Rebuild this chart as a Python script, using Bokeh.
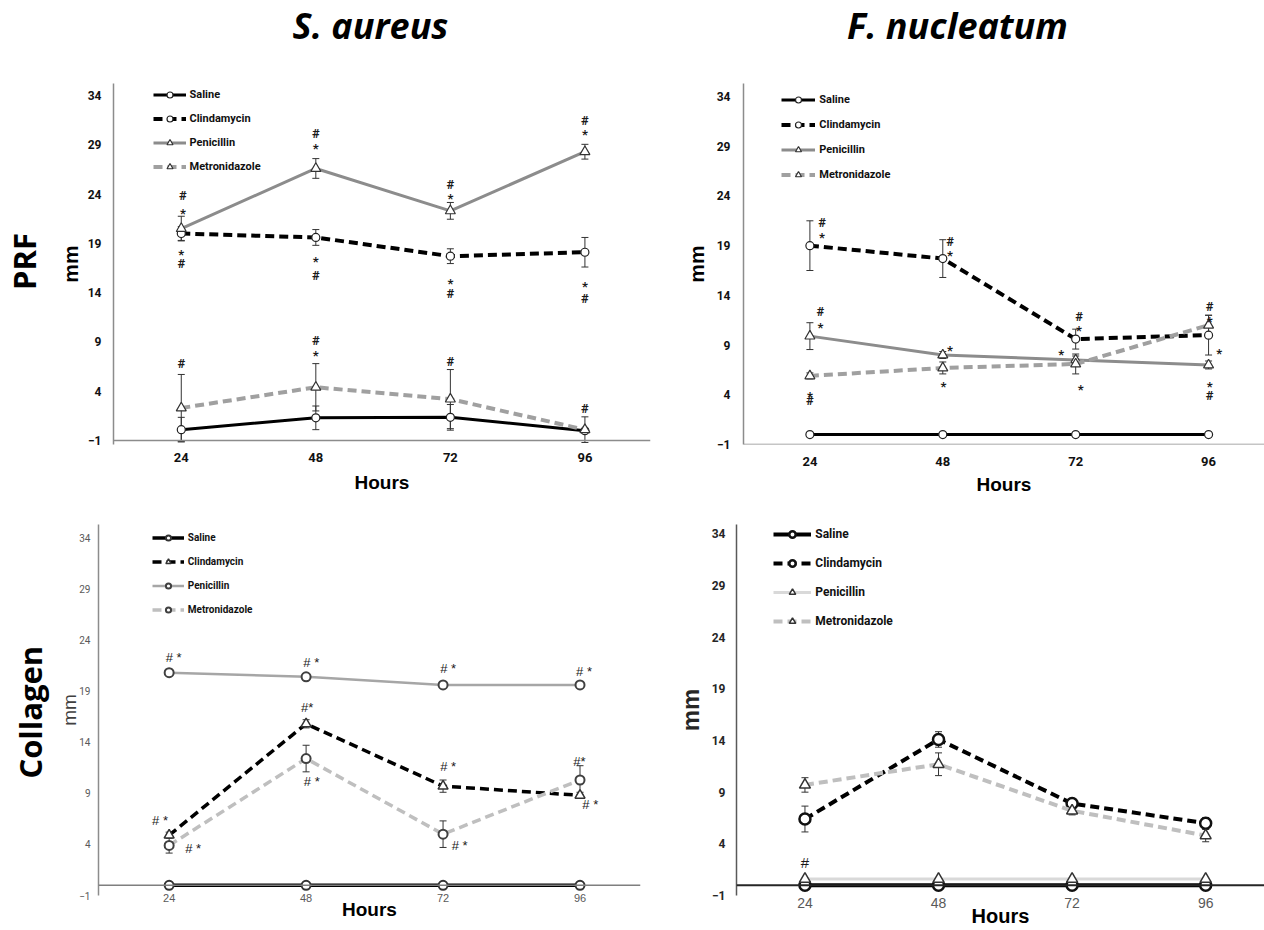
import math
from bokeh.plotting import figure
from bokeh.models import (Range1d, FixedTicker, Legend, LegendItem, Whisker,
                          ColumnDataSource, Label, Span)
from bokeh.layouts import column, row
from bokeh.embed import file_html
from bokeh.resources import INLINE
from bokeh.core.properties import value

# ---------------- data ----------------
hours = [24, 48, 72, 96]
y_ticks = [-1, 4, 9, 14, 19, 24, 29, 34]
series_names = ["Saline", "Clindamycin", "Penicillin", "Metronidazole"]
column_titles = ["S. aureus", "F. nucleatum"]
row_titles = ["PRF", "Collagen"]
x_title = "Hours"
y_title = "mm"

# S. aureus - PRF
sa_prf_saline = [0.1, 1.3, 1.35, 0.0]
sa_prf_saline_err = [1.25, 1.2, 1.3, 0.2]
sa_prf_clinda = [20.0, 19.6, 17.7, 18.1]
sa_prf_clinda_err = [0.7, 0.8, 0.75, 1.5]
sa_prf_penic = [20.5, 26.6, 22.3, 28.3]
sa_prf_penic_err = [1.25, 1.0, 0.85, 0.75]
sa_prf_metro = [2.3, 4.4, 3.2, 0.1]
sa_prf_metro_err = [3.4, 2.4, 3.0, 1.3]
sa_prf_ann_x = [24.3, 24.3, 24, 24, 48, 48, 48, 48, 72, 72, 72, 72, 96, 96, 96, 96,
                24, 48, 48, 72, 96]
sa_prf_ann_y = [23.86, 22.33, 18.21, 16.92, 30.11, 28.93, 17.43, 15.74, 24.97, 23.86,
                15.23, 13.88, 31.47, 30.38, 14.89, 13.37, 6.85, 9.15, 7.96, 7.05, 2.21]
sa_prf_ann_text = ["#", "*", "*", "#", "#", "*", "*", "#", "#", "*", "*", "#", "#", "*",
                   "*", "#", "#", "#", "*", "#", "#"]

# F. nucleatum - PRF
fn_prf_saline = [0.0, 0.0, 0.0, 0.0]
fn_prf_saline_err = [0.0, 0.0, 0.0, 0.0]
fn_prf_clinda = [19.0, 17.7, 9.6, 10.0]
fn_prf_clinda_err = [2.5, 1.9, 1.0, 2.0]
fn_prf_penic = [9.9, 8.0, 7.5, 7.0]
fn_prf_penic_err = [1.35, 0.35, 0.4, 0.4]
fn_prf_metro = [5.9, 6.7, 7.1, 11.0]
fn_prf_metro_err = [0.3, 0.6, 1.0, 1.0]
fn_prf_ann_x = [26.2, 26.2, 49.3, 49.3, 25.9, 25.9, 49.3, 48.1, 72.6, 72.6, 69.4, 72.9,
                96.2, 96.2, 97.9, 96.2, 96.2, 24, 24]
fn_prf_ann_y = [21.37, 20.13, 19.43, 18.29, 12.33, 11.09, 8.75, 5.13, 11.89, 10.75, 8.38,
                4.79, 12.83, 11.66, 8.41, 5.13, 3.96, 4.12, 3.39]
fn_prf_ann_text = ["#", "*", "#", "*", "#", "*", "*", "*", "#", "*", "*", "*", "#", "*",
                   "*", "*", "#", "*", "#"]

# S. aureus - Collagen
sa_col_saline = [0.0, 0.0, 0.0, 0.0]
sa_col_saline_err = [0.0, 0.0, 0.0, 0.0]
sa_col_clinda = [4.9, 15.8, 9.7, 8.8]
sa_col_clinda_err = [0.3, 0.4, 0.6, 0.3]
sa_col_penic = [20.8, 20.4, 19.6, 19.6]
sa_col_penic_err = [0.1, 0.1, 0.1, 0.1]
sa_col_metro = [3.9, 12.4, 5.0, 10.3]
sa_col_metro_err = [0.75, 1.3, 1.3, 1.4]
sa_col_ann_x = [24.8, 48.9, 72.9, 96.7, 48.2, 49.0, 72.9, 95.9, 97.8, 22.4, 28.2, 74.9]
sa_col_ann_y = [22.31, 21.80, 21.19, 20.93, 17.41, 10.11, 11.65, 12.13, 7.87, 6.36, 3.58, 3.90]
sa_col_ann_text = ["# *", "# *", "# *", "# *", "#*", "# *", "# *", "#*", "# *", "# *",
                   "# *", "# *"]

# F. nucleatum - Collagen
fn_col_saline = [0.0, 0.0, 0.0, 0.0]
fn_col_saline_err = [0.0, 0.0, 0.0, 0.0]
fn_col_clinda = [6.4, 14.1, 7.9, 6.0]
fn_col_clinda_err = [1.25, 0.75, 0.4, 0.55]
fn_col_penic = [0.6, 0.6, 0.6, 0.6]
fn_col_penic_err = [0.0, 0.0, 0.0, 0.0]
fn_col_metro = [9.7, 11.7, 7.2, 4.8]
fn_col_metro_err = [0.7, 1.1, 0.4, 0.6]
fn_col_ann_x = [24]
fn_col_ann_y = [2.23]
fn_col_ann_text = ["#"]

# ---------------- styling ----------------
NARROW = "Roboto"
SANS = "Liberation Sans"
HEAD = "Open Sans"
ROWFONT = "Open Sans"


def make_panel(g, series, ann, st):
    p = figure(width=g["w"], height=g["h"], x_range=Range1d(*g["xr"]),
               y_range=Range1d(*g["yr"]), output_backend="svg", toolbar_location=None,
               title=None, min_border_left=g["left"], min_border_right=g["right"],
               min_border_top=g["top"], min_border_bottom=g["bottom"])
    p.outline_line_color = None
    p.xgrid.visible = False
    p.ygrid.visible = False
    p.background_fill_color = "white"
    p.border_fill_color = "white"

    xa = p.xaxis[0]
    ya = p.yaxis[0]
    xa.ticker = FixedTicker(ticks=hours, minor_ticks=[])
    ya.ticker = FixedTicker(ticks=y_ticks, minor_ticks=[])
    ya.major_label_overrides = {-1: "\u22121"}
    for ax in (xa, ya):
        ax.major_tick_line_color = None
        ax.minor_tick_line_color = None
        ax.major_tick_out = 0
        ax.major_tick_in = 0
        ax.minor_tick_out = 0
        ax.minor_tick_in = 0
    xa.axis_label = x_title
    ya.axis_label = y_title

    xa.axis_line_color = None
    ya.axis_line_color = st["yaxis_line"]
    ya.axis_line_width = 1.5

    xa.major_label_text_font = st["xtick_font"]
    xa.major_label_text_font_size = st["xtick_size"]
    xa.major_label_text_font_style = st["xtick_style"]
    xa.major_label_text_color = st["xtick_color"]
    xa.major_label_standoff = st["xtick_standoff"]
    ya.major_label_text_font = st["ytick_font"]
    ya.major_label_text_font_size = st["ytick_size"]
    ya.major_label_text_font_style = st["ytick_style"]
    ya.major_label_text_color = st["ytick_color"]
    ya.major_label_standoff = st["ytick_standoff"]

    xa.axis_label_text_font = SANS
    xa.axis_label_text_font_size = st["xlabel_size"]
    xa.axis_label_text_font_style = "bold"
    xa.axis_label_text_color = "black"
    xa.axis_label_standoff = st["xlabel_standoff"]
    ya.axis_label_text_font = SANS
    ya.axis_label_text_font_size = st["ylabel_size"]
    ya.axis_label_text_font_style = st["ylabel_style"]
    ya.axis_label_text_color = st["ylabel_color"]
    ya.axis_label_standoff = st["ylabel_standoff"]

    # horizontal axis line (at y=-1 for PRF panels, at y=0 for collagen panels)
    p.add_layout(Span(location=st["xline_at"], dimension="width", line_color=st["xline_color"],
                      line_width=st["xline_width"]))

    items = []
    for name, vals, errs, s in zip(series_names, series["vals"], series["errs"], st["series"]):
        if any(e > 0 for e in errs):
            src = ColumnDataSource(dict(x=hours,
                                        up=[v + e for v, e in zip(vals, errs)],
                                        lo=[v - e for v, e in zip(vals, errs)]))
            w = Whisker(base="x", upper="up", lower="lo", source=src,
                        line_color="#333333", line_width=1, level="underlay")
            w.upper_head.size = 7
            w.lower_head.size = 7
            w.upper_head.line_color = "#333333"
            w.lower_head.line_color = "#333333"
            p.add_layout(w)
        rl = p.line(hours, vals, line_color=s["color"], line_width=s["width"],
                    line_dash=s["dash"])
        rs = p.scatter(hours, vals, marker=s["marker"], size=s["size"], fill_color="white",
                       line_color=s["mline"], line_width=s["mwidth"])
        items.append(LegendItem(label=name, renderers=[rl, rs]))

    lg = st["legend"]
    leg = Legend(items=items, location=lg["loc"], padding=0, margin=0,
                 spacing=lg["spacing"], glyph_width=lg["gw"], glyph_height=lg["h"],
                 label_height=lg["h"], label_standoff=lg["standoff"],
                 label_text_font=NARROW, label_text_font_size=lg["size"],
                 label_text_font_style="bold", label_text_color="#111111",
                 border_line_alpha=0, background_fill_alpha=0)
    p.add_layout(leg)

    ax_, ay_, at_ = ann
    for is_star in (False, True):
        xs = [x for x, t in zip(ax_, at_) if (t == "*") == is_star]
        ys = [y for y, t in zip(ay_, at_) if (t == "*") == is_star]
        ts = [t for t in at_ if (t == "*") == is_star]
        if xs:
            p.text(xs, ys, text=ts, text_align="center", text_baseline="middle",
                   text_font=value(st["ann_font"]), text_font_size=st["ann_size"],
                   text_font_style=st["ann_style"], text_color="#1a1a1a",
                   y_offset=3 if is_star else 0)
    return p


def strip(w, h):
    s = figure(width=w, height=h, output_backend="svg", toolbar_location=None, title=None,
               x_axis_type=None, y_axis_type=None, x_range=Range1d(0, 1), y_range=Range1d(0, 1),
               min_border_left=0, min_border_right=0, min_border_top=0, min_border_bottom=0)
    s.outline_line_color = None
    s.background_fill_color = "white"
    s.border_fill_color = "white"
    return s


def sty(color, width, dash, marker, size, mline, mwidth):
    return dict(color=color, width=width, dash=dash, marker=marker, size=size,
                mline=mline, mwidth=mwidth)


top_common = dict(yaxis_line="#8c8c8c", xline_at=-1, xline_color="#8c8c8c", xline_width=1.5,
                  xtick_font=NARROW, xtick_size="13px", xtick_style="bold", xtick_color="#111111",
                  ytick_font=NARROW, ytick_size="12px", ytick_style="bold", ytick_color="#111111",
                  xlabel_size="19px", ylabel_size="21px", ylabel_style="bold", ylabel_color="black",
                  ann_font=NARROW, ann_size="13px", ann_style="bold",
                  series=[sty("black", 3, "solid", "circle", 8, "#222222", 1.2),
                          sty("black", 4, "9 5", "circle", 8, "#222222", 1.2),
                          sty("#8c8c8c", 3, "solid", "triangle", 10, "#333333", 1.2),
                          sty("#a0a0a0", 4, "9 5", "triangle", 10, "#333333", 1.2)])

st1 = dict(top_common, xtick_standoff=8, xlabel_standoff=7, ytick_standoff=12,
           ylabel_standoff=3,
           legend=dict(loc=(39.5, 270.2), spacing=9, gw=33, h=15, standoff=4, size="11px"))
st2 = dict(top_common, xtick_standoff=12, xlabel_standoff=5, ytick_standoff=13,
           ylabel_standoff=6,
           legend=dict(loc=(38.3, 262.2), spacing=10, gw=34, h=15, standoff=4, size="11px"))
st3 = dict(yaxis_line="#8c8c8c", xline_at=0, xline_color="#7f7f7f", xline_width=1.5,
           xtick_font=SANS, xtick_size="11px", xtick_style="normal", xtick_color="#595959",
           xtick_standoff=-2,
           ytick_font=NARROW, ytick_size="10px", ytick_style="normal", ytick_color="#595959",
           ytick_standoff=8,
           xlabel_size="19px", xlabel_standoff=-6,
           ylabel_size="19px", ylabel_style="normal", ylabel_color="#404040", ylabel_standoff=-4,
           ann_font=SANS, ann_size="13px", ann_style="normal",
           legend=dict(loc=(53.8, 279.2), spacing=11, gw=32, h=13, standoff=4, size="10px"),
           series=[sty("black", 3.5, "solid", "circle", 9, "#333333", 2),
                   sty("black", 3.5, "9 5", "triangle", 10, "#333333", 1.5),
                   sty("#a6a6a6", 2.5, "solid", "circle", 9, "#404040", 2),
                   sty("#bfbfbf", 3.5, "9 5", "circle", 9, "#404040", 2)])
st4 = dict(yaxis_line="#595959", xline_at=0, xline_color="#262626", xline_width=2,
           xtick_font=SANS, xtick_size="14px", xtick_style="normal", xtick_color="#595959",
           xtick_standoff=2,
           ytick_font=NARROW, ytick_size="12px", ytick_style="bold", ytick_color="#262626",
           ytick_standoff=11,
           xlabel_size="20px", xlabel_standoff=-6,
           ylabel_size="24px", ylabel_style="bold", ylabel_color="#262626", ylabel_standoff=5,
           ann_font=SANS, ann_size="15px", ann_style="normal",
           legend=dict(loc=(37.3, 265.7), spacing=13, gw=38, h=16, standoff=4, size="12px"),
           series=[sty("black", 4, "solid", "circle", 11, "#111111", 2.5),
                   sty("black", 4, "9 5", "circle", 11, "#111111", 2.5),
                   sty("#d9d9d9", 3, "solid", "triangle", 11, "#333333", 1.5),
                   sty("#bfbfbf", 4, "9 5", "triangle", 11, "#333333", 1.5)])

# frames within a row share their top / bottom edges
G1 = dict(w=610, h=455, left=63, right=10, top=33, bottom=61, xr=(11.91, 107.7),
          yr=(-1.406, 35.22))
G2 = dict(w=604, h=455, left=83, right=0, top=33, bottom=61, xr=(12.01, 106.1),
          yr=(-1.0, 35.31))
G3 = dict(w=610, h=425, left=48, right=20, top=19, bottom=35, xr=(11.62, 106.6),
          yr=(-1.0, 35.3))
G4 = dict(w=604, h=425, left=76, right=0, top=19, bottom=35, xr=(11.7, 106.57),
          yr=(-1.0, 34.9))

p1 = make_panel(G1, dict(vals=[sa_prf_saline, sa_prf_clinda, sa_prf_penic, sa_prf_metro],
                         errs=[sa_prf_saline_err, sa_prf_clinda_err, sa_prf_penic_err,
                               sa_prf_metro_err]),
                (sa_prf_ann_x, sa_prf_ann_y, sa_prf_ann_text), st1)
p2 = make_panel(G2, dict(vals=[fn_prf_saline, fn_prf_clinda, fn_prf_penic, fn_prf_metro],
                         errs=[fn_prf_saline_err, fn_prf_clinda_err, fn_prf_penic_err,
                               fn_prf_metro_err]),
                (fn_prf_ann_x, fn_prf_ann_y, fn_prf_ann_text), st2)
p3 = make_panel(G3, dict(vals=[sa_col_saline, sa_col_clinda, sa_col_penic, sa_col_metro],
                         errs=[sa_col_saline_err, sa_col_clinda_err, sa_col_penic_err,
                               sa_col_metro_err]),
                (sa_col_ann_x, sa_col_ann_y, sa_col_ann_text), st3)
p4 = make_panel(G4, dict(vals=[fn_col_saline, fn_col_clinda, fn_col_penic, fn_col_metro],
                         errs=[fn_col_saline_err, fn_col_clinda_err, fn_col_penic_err,
                               fn_col_metro_err]),
                (fn_col_ann_x, fn_col_ann_y, fn_col_ann_text), st4)

# heading strips
head = strip(1264, 50)
for txt, xpos in zip(column_titles, [370, 957]):
    head.add_layout(Label(x=xpos, y=25, x_units="screen", y_units="screen", text=txt,
                          text_font=HEAD, text_font_size="36px", text_font_style="bold italic",
                          text_align="center", text_baseline="middle", text_color="black"))
side_top = strip(50, 455)
side_top.add_layout(Label(x=23.5, y=183, x_units="screen", y_units="screen", text=row_titles[0],
                          text_font=ROWFONT, text_font_size="31px", text_font_style="bold",
                          text_align="center", text_baseline="middle", angle=math.pi / 2,
                          text_color="black"))
side_bot = strip(50, 425)
side_bot.add_layout(Label(x=29, y=183.3, x_units="screen", y_units="screen", text=row_titles[1],
                          text_font=ROWFONT, text_font_size="31px", text_font_style="bold",
                          text_align="center", text_baseline="middle", angle=math.pi / 2,
                          text_color="black"))

layout = column(head, row(side_top, p1, p2), row(side_bot, p3, p4))
open("out.html", "w").write(file_html(layout, INLINE))
